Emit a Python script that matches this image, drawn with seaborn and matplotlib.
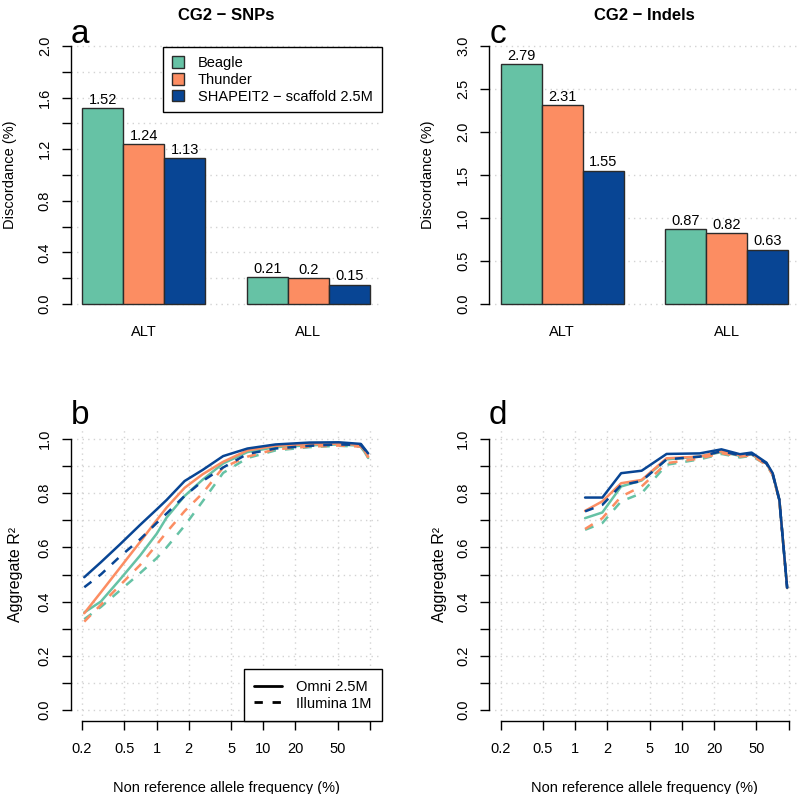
import numpy as np
import pandas as pd
import matplotlib
matplotlib.use('Agg')
import matplotlib.pyplot as plt
import matplotlib.patches as mpatches
from matplotlib.lines import Line2D
from matplotlib.ticker import NullLocator
import seaborn as sns

# ---- data ----
methods = ['Beagle', 'Thunder', 'SHAPEIT2 − scaffold 2.5M']
colors = ['#66C2A5', '#FC8D62', '#084594']
groups = ['ALT', 'ALL']
chips = ['Omni 2.5M', 'Illumina 1M']

# discordance (%)
snp_beagle = [1.52, 0.21]
snp_thunder = [1.24, 0.20]
snp_shapeit = [1.13, 0.15]
indel_beagle = [2.79, 0.87]
indel_thunder = [2.31, 0.82]
indel_shapeit = [1.55, 0.63]

# aggregate R2 vs non reference allele frequency (%)
freq_snp = [0.21, 0.3, 0.45, 0.7, 1.0, 1.24, 1.83, 2.7, 4.2, 7.1, 13, 27, 51, 82, 96]
snp_beagle_omni = [0.36, 0.40, 0.48, 0.57, 0.65, 0.71, 0.79, 0.85, 0.91, 0.952, 0.97, 0.977, 0.98, 0.975, 0.93]
snp_thunder_omni = [0.357, 0.434, 0.523, 0.62, 0.70, 0.747, 0.82, 0.87, 0.916, 0.958, 0.975, 0.981, 0.983, 0.978, 0.935]
snp_shapeit_omni = [0.49, 0.545, 0.61, 0.683, 0.74, 0.775, 0.845, 0.886, 0.937, 0.965, 0.98, 0.987, 0.988, 0.982, 0.947]
snp_beagle_illu = [0.335, 0.38, 0.44, 0.505, 0.56, 0.60, 0.68, 0.77, 0.875, 0.93, 0.958, 0.97, 0.975, 0.972, 0.93]
snp_thunder_illu = [0.326, 0.388, 0.459, 0.535, 0.61, 0.656, 0.734, 0.80, 0.895, 0.935, 0.962, 0.972, 0.976, 0.972, 0.932]
snp_shapeit_illu = [0.453, 0.50, 0.565, 0.63, 0.69, 0.725, 0.79, 0.845, 0.895, 0.945, 0.965, 0.975, 0.98, 0.978, 0.945]

freq_indel = [1.24, 1.8, 2.7, 4.2, 7.2, 14.7, 23.5, 35, 45, 62, 71, 82, 97]
indel_beagle_omni = [0.708, 0.729, 0.825, 0.847, 0.925, 0.935, 0.952, 0.938, 0.943, 0.91, 0.87, 0.775, 0.45]
indel_thunder_omni = [0.735, 0.77, 0.837, 0.849, 0.929, 0.935, 0.955, 0.94, 0.945, 0.91, 0.87, 0.775, 0.45]
indel_shapeit_omni = [0.784, 0.784, 0.874, 0.883, 0.945, 0.947, 0.962, 0.944, 0.95, 0.913, 0.874, 0.776, 0.451]
indel_beagle_illu = [0.665, 0.69, 0.77, 0.80, 0.905, 0.925, 0.945, 0.932, 0.938, 0.905, 0.868, 0.774, 0.45]
indel_thunder_illu = [0.668, 0.708, 0.788, 0.825, 0.911, 0.928, 0.948, 0.935, 0.94, 0.905, 0.868, 0.774, 0.45]
indel_shapeit_illu = [0.733, 0.757, 0.83, 0.845, 0.925, 0.935, 0.955, 0.94, 0.945, 0.91, 0.87, 0.775, 0.45]

xticks = [0.2, 0.5, 1, 2, 5, 10, 20, 50, 100]
xticklabels = ['0.2', '0.5', '1', '2', '5', '10', '20', '50', '']

sns.set_style('ticks')
plt.rcParams['font.family'] = ['Liberation Sans', 'DejaVu Sans']
plt.rcParams.update({'axes.edgecolor': 'black', 'text.color': 'black',
                     'xtick.color': 'black', 'ytick.color': 'black',
                     'axes.labelcolor': 'black', 'axes.linewidth': 1})

FS = 10.5
grid_kw = dict(color='#d3d3d3', linestyle=(0, (1, 3)), linewidth=1)


def bar_frame(vals):
    rows = []
    for m, v in zip(methods, vals):
        for g, x in zip(groups, v):
            rows.append({'group': g, 'method': m, 'value': x})
    return pd.DataFrame(rows)


def bar_panel(ax, df, ymax, step, every, title):
    sns.barplot(data=df, x='group', y='value', hue='method', order=groups,
                hue_order=methods, palette=colors, width=0.75, saturation=1,
                edgecolor='#2b2b2b', linewidth=1, errorbar=None, legend=False, ax=ax)
    for cont in ax.containers:
        ax.bar_label(cont, labels=[f'{v:g}' for v in cont.datavalues],
                     padding=1, fontsize=FS)
    ticks = np.arange(0, ymax + 1e-9, step)
    ax.set_yticks(ticks)
    ax.set_yticklabels([f'{t:.1f}' if i % every == 0 else '' for i, t in enumerate(ticks)])
    ax.set_ylim(-0.04 * ymax, 1.04 * ymax)
    ax.set_xlim(-0.445, 1.445)
    ax.set_axisbelow(True)
    ax.yaxis.grid(True, **grid_kw)
    for s in ['top', 'right', 'bottom']:
        ax.spines[s].set_visible(False)
    ax.spines['left'].set_bounds(0, ymax)
    ax.tick_params(axis='x', length=0, pad=8, labelsize=FS)
    ax.tick_params(axis='y', length=6.5, width=1, pad=7, labelsize=FS)
    for lab in ax.get_yticklabels():
        lab.set_rotation(90)
        lab.set_va('center')
    ax.set_xlabel('')
    ax.set_ylabel('Discordance (%)', fontsize=FS)
    ax.set_title(title, fontsize=12, fontweight='bold', pad=11)


def line_panel(ax, freq, series):
    rows = []
    for (m, c), vals in series:
        for f, v in zip(freq, vals):
            rows.append({'freq': f, 'r2': v, 'method': m, 'chip': c})
    df = pd.DataFrame(rows)
    sns.lineplot(data=df, x='freq', y='r2', hue='method', style='chip',
                 hue_order=methods, style_order=['Illumina 1M', 'Omni 2.5M'],
                 palette=colors, dashes={'Omni 2.5M': '', 'Illumina 1M': (3.6, 3.6)},
                 estimator=None, sort=False, legend=False, linewidth=1.8, ax=ax)
    ax.set_xscale('log')
    ax.set_xlim(0.156, 128)
    ax.set_ylim(-0.04, 1.04)
    ax.set_xticks(xticks)
    ax.set_xticklabels(xticklabels)
    ax.xaxis.set_minor_locator(NullLocator())
    yt = np.arange(0, 1.0001, 0.1)
    ax.set_yticks(yt)
    ax.set_yticklabels([f'{t:.1f}' if i % 2 == 0 else '' for i, t in enumerate(yt)])
    ax.set_axisbelow(True)
    ax.grid(True, which='major', **grid_kw)
    for s in ['top', 'right']:
        ax.spines[s].set_visible(False)
    ax.spines['left'].set_bounds(0, 1)
    ax.spines['bottom'].set_bounds(0.2, 100)
    ax.tick_params(axis='both', length=6.5, width=1, labelsize=FS)
    ax.tick_params(axis='x', pad=9)
    ax.tick_params(axis='y', pad=7)
    for lab in ax.get_yticklabels():
        lab.set_rotation(90)
        lab.set_va('center')
    ax.set_xlabel('Non reference allele frequency (%)', fontsize=FS, labelpad=18)
    ax.set_ylabel('Aggregate R²', fontsize=11.5)


fig = plt.figure(figsize=(8, 7.94), dpi=100)
W, H = 800, 794
ax_a = fig.add_axes([70.5 / W, 1 - 314.3 / H, 311 / W, 278.6 / H])
ax_c = fig.add_axes([489 / W, 1 - 314.3 / H, 311 / W, 278.6 / H])
ax_b = fig.add_axes([70.5 / W, 1 - 720.8 / H, 311 / W, 292.6 / H])
ax_d = fig.add_axes([489 / W, 1 - 720.8 / H, 311 / W, 292.6 / H])

bar_panel(ax_a, bar_frame([snp_beagle, snp_thunder, snp_shapeit]), 2.0, 0.2, 2, 'CG2 − SNPs')
bar_panel(ax_c, bar_frame([indel_beagle, indel_thunder, indel_shapeit]), 3.0, 0.5, 1, 'CG2 − Indels')
ax_a.yaxis.set_label_coords(-0.172, 0.5)
ax_c.yaxis.set_label_coords(-0.174, 0.5)

handles = [mpatches.Patch(facecolor=c, edgecolor='#2b2b2b', linewidth=1) for c in colors]
leg = ax_a.legend(handles, methods, loc='upper right', bbox_to_anchor=(1.0, 0.959),
                  borderaxespad=0, fontsize=FS, handlelength=0.85, handleheight=0.85,
                  handletextpad=0.95, labelspacing=0.2, borderpad=0.6,
                  fancybox=False, framealpha=1, edgecolor='black')
leg.get_frame().set_linewidth(1)

line_panel(ax_b, freq_snp, [
    (('Beagle', 'Omni 2.5M'), snp_beagle_omni), (('Beagle', 'Illumina 1M'), snp_beagle_illu),
    (('Thunder', 'Omni 2.5M'), snp_thunder_omni), (('Thunder', 'Illumina 1M'), snp_thunder_illu),
    ((methods[2], 'Omni 2.5M'), snp_shapeit_omni), ((methods[2], 'Illumina 1M'), snp_shapeit_illu)])
line_panel(ax_d, freq_indel, [
    (('Beagle', 'Omni 2.5M'), indel_beagle_omni), (('Beagle', 'Illumina 1M'), indel_beagle_illu),
    (('Thunder', 'Omni 2.5M'), indel_thunder_omni), (('Thunder', 'Illumina 1M'), indel_thunder_illu),
    ((methods[2], 'Omni 2.5M'), indel_shapeit_omni), ((methods[2], 'Illumina 1M'), indel_shapeit_illu)])
ax_b.yaxis.set_label_coords(-0.153, 0.5)
ax_d.yaxis.set_label_coords(-0.135, 0.5)

lh = [Line2D([0], [0], color='black', lw=2),
      Line2D([0], [0], color='black', lw=2, dashes=(3, 3.5))]
leg2 = ax_b.legend(lh, chips, loc='lower right', bbox_to_anchor=(1.0, 0.0),
                   borderaxespad=0, fontsize=FS, handlelength=1.9, handletextpad=0.95,
                   labelspacing=0.2, borderpad=0.7, fancybox=False, framealpha=1,
                   edgecolor='black')
leg2.get_frame().set_linewidth(1)

for lab, x, y in [('a', 71, 43), ('c', 490, 43), ('b', 71, 424), ('d', 489, 424)]:
    fig.text(x / W, 1 - y / H, lab, fontsize=24, ha='left', va='baseline')

fig.savefig('out.png', dpi=100)
